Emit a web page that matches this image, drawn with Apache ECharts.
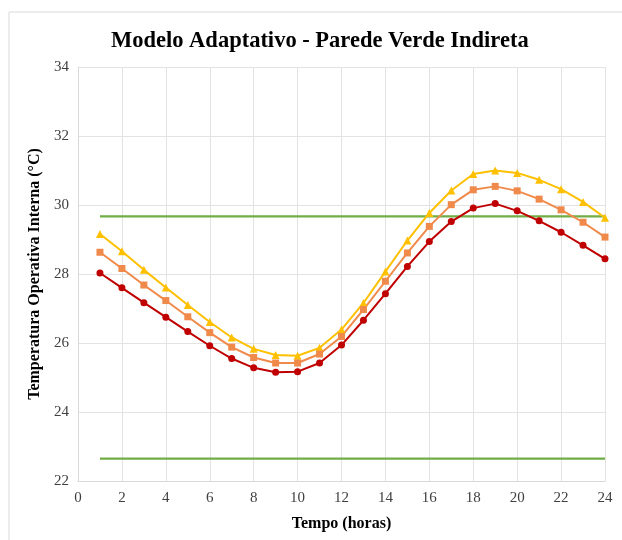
<!DOCTYPE html>
<html style="height: 100%">
<head>
<meta charset="utf-8">
</head>
<body style="height: 100%; margin: 0; background: #fff;">
<div id="container" style="width: 622px; height: 540px;"></div>
<script src="https://cdn.jsdelivr.net/npm/echarts@6/dist/echarts.min.js"></script>
<script>
// hours 1..24
var hours = [1, 2, 3, 4, 5, 6, 7, 8, 9, 10, 11, 12, 13, 14, 15, 16, 17, 18, 19, 20, 21, 22, 23, 24];

// three temperature curves (circle / square / triangle markers)
var serieCircle = [28.03, 27.60, 27.17, 26.75, 26.33, 25.92, 25.55, 25.28, 25.15, 25.17, 25.42, 25.94,
    26.66, 27.43, 28.22, 28.94, 29.52, 29.91, 30.04, 29.83, 29.54, 29.21, 28.83, 28.44];
var serieSquare = [28.63, 28.16, 27.68, 27.23, 26.76, 26.30, 25.88, 25.58, 25.42, 25.42, 25.68, 26.19,
    26.97, 27.79, 28.61, 29.38, 30.01, 30.44, 30.54, 30.41, 30.17, 29.86, 29.50, 29.07];
var serieTriangle = [29.16, 28.66, 28.12, 27.61, 27.10, 26.61, 26.16, 25.83, 25.65, 25.63, 25.86, 26.39,
    27.16, 28.07, 28.97, 29.77, 30.42, 30.90, 31.00, 30.93, 30.73, 30.46, 30.09, 29.63];

// comfort limits
var limiteSuperior = 29.67;
var limiteInferior = 22.65;

function pares(vals) {
    return hours.map(function (h, i) { return [h, vals[i]]; });
}
function constante(v) {
    return hours.map(function (h) { return [h, v]; });
}

var chart = echarts.init(document.getElementById('container'));
var serif = '"Liberation Serif", "DejaVu Serif", serif';

var option = {
    animation: false,
    backgroundColor: '#fff',
    graphic: [{
        type: 'rect',
        shape: { x: 9, y: 12, width: 640, height: 560 },
        style: { fill: 'none', stroke: '#d9d9d9', lineWidth: 1 },
        z: -1
    }],
    title: {
        text: 'Modelo Adaptativo - Parede Verde Indireta',
        left: 106,
        top: 25,
        textStyle: { fontFamily: serif, fontSize: 22.5, fontWeight: 'bold', color: '#000' }
    },
    grid: { left: 78, right: 17, top: 67, bottom: 59 },
    xAxis: {
        type: 'value',
        min: 0, max: 24, interval: 2,
        name: 'Tempo (horas)',
        nameLocation: 'middle',
        nameGap: 35,
        nameTextStyle: { fontFamily: serif, fontSize: 16, fontWeight: 'bold', color: '#000' },
        axisLine: { show: true, lineStyle: { color: '#d9d9d9' } },
        axisTick: { show: false },
        axisLabel: { fontFamily: serif, fontSize: 15, color: '#404040', margin: 10 },
        splitLine: { show: true, lineStyle: { color: '#e3e3e3' } }
    },
    yAxis: {
        type: 'value',
        min: 22, max: 34, interval: 2,
        name: 'Temperatura Operativa Interna (°C)',
        nameLocation: 'middle',
        nameGap: 32,
        nameTextStyle: { fontFamily: serif, fontSize: 16, fontWeight: 'bold', color: '#000' },
        axisLine: { show: true, lineStyle: { color: '#d9d9d9' } },
        axisTick: { show: false },
        axisLabel: { fontFamily: serif, fontSize: 15, color: '#404040', margin: 9 },
        splitLine: { show: true, lineStyle: { color: '#e3e3e3' } }
    },
    series: [{
        name: 'Limite superior',
        type: 'line',
        data: constante(limiteSuperior),
        showSymbol: false,
        lineStyle: { color: '#70ad47', width: 2.2 },
        itemStyle: { color: '#70ad47' }
    }, {
        name: 'Limite inferior',
        type: 'line',
        data: constante(limiteInferior),
        showSymbol: false,
        lineStyle: { color: '#70ad47', width: 2.2 },
        itemStyle: { color: '#70ad47' }
    }, {
        name: 'Triângulo',
        type: 'line',
        data: pares(serieTriangle),
        symbol: 'triangle',
        symbolSize: 8,
        lineStyle: { color: '#ffc000', width: 2 },
        itemStyle: { color: '#ffc000' }
    }, {
        name: 'Quadrado',
        type: 'line',
        data: pares(serieSquare),
        symbol: 'rect',
        symbolSize: 7,
        lineStyle: { color: '#f08a4b', width: 2 },
        itemStyle: { color: '#f08a4b' }
    }, {
        name: 'Círculo',
        type: 'line',
        data: pares(serieCircle),
        symbol: 'circle',
        symbolSize: 7,
        lineStyle: { color: '#c00000', width: 2 },
        itemStyle: { color: '#c00000' }
    }]
};

chart.setOption(option);
</script>
</body>
</html>
